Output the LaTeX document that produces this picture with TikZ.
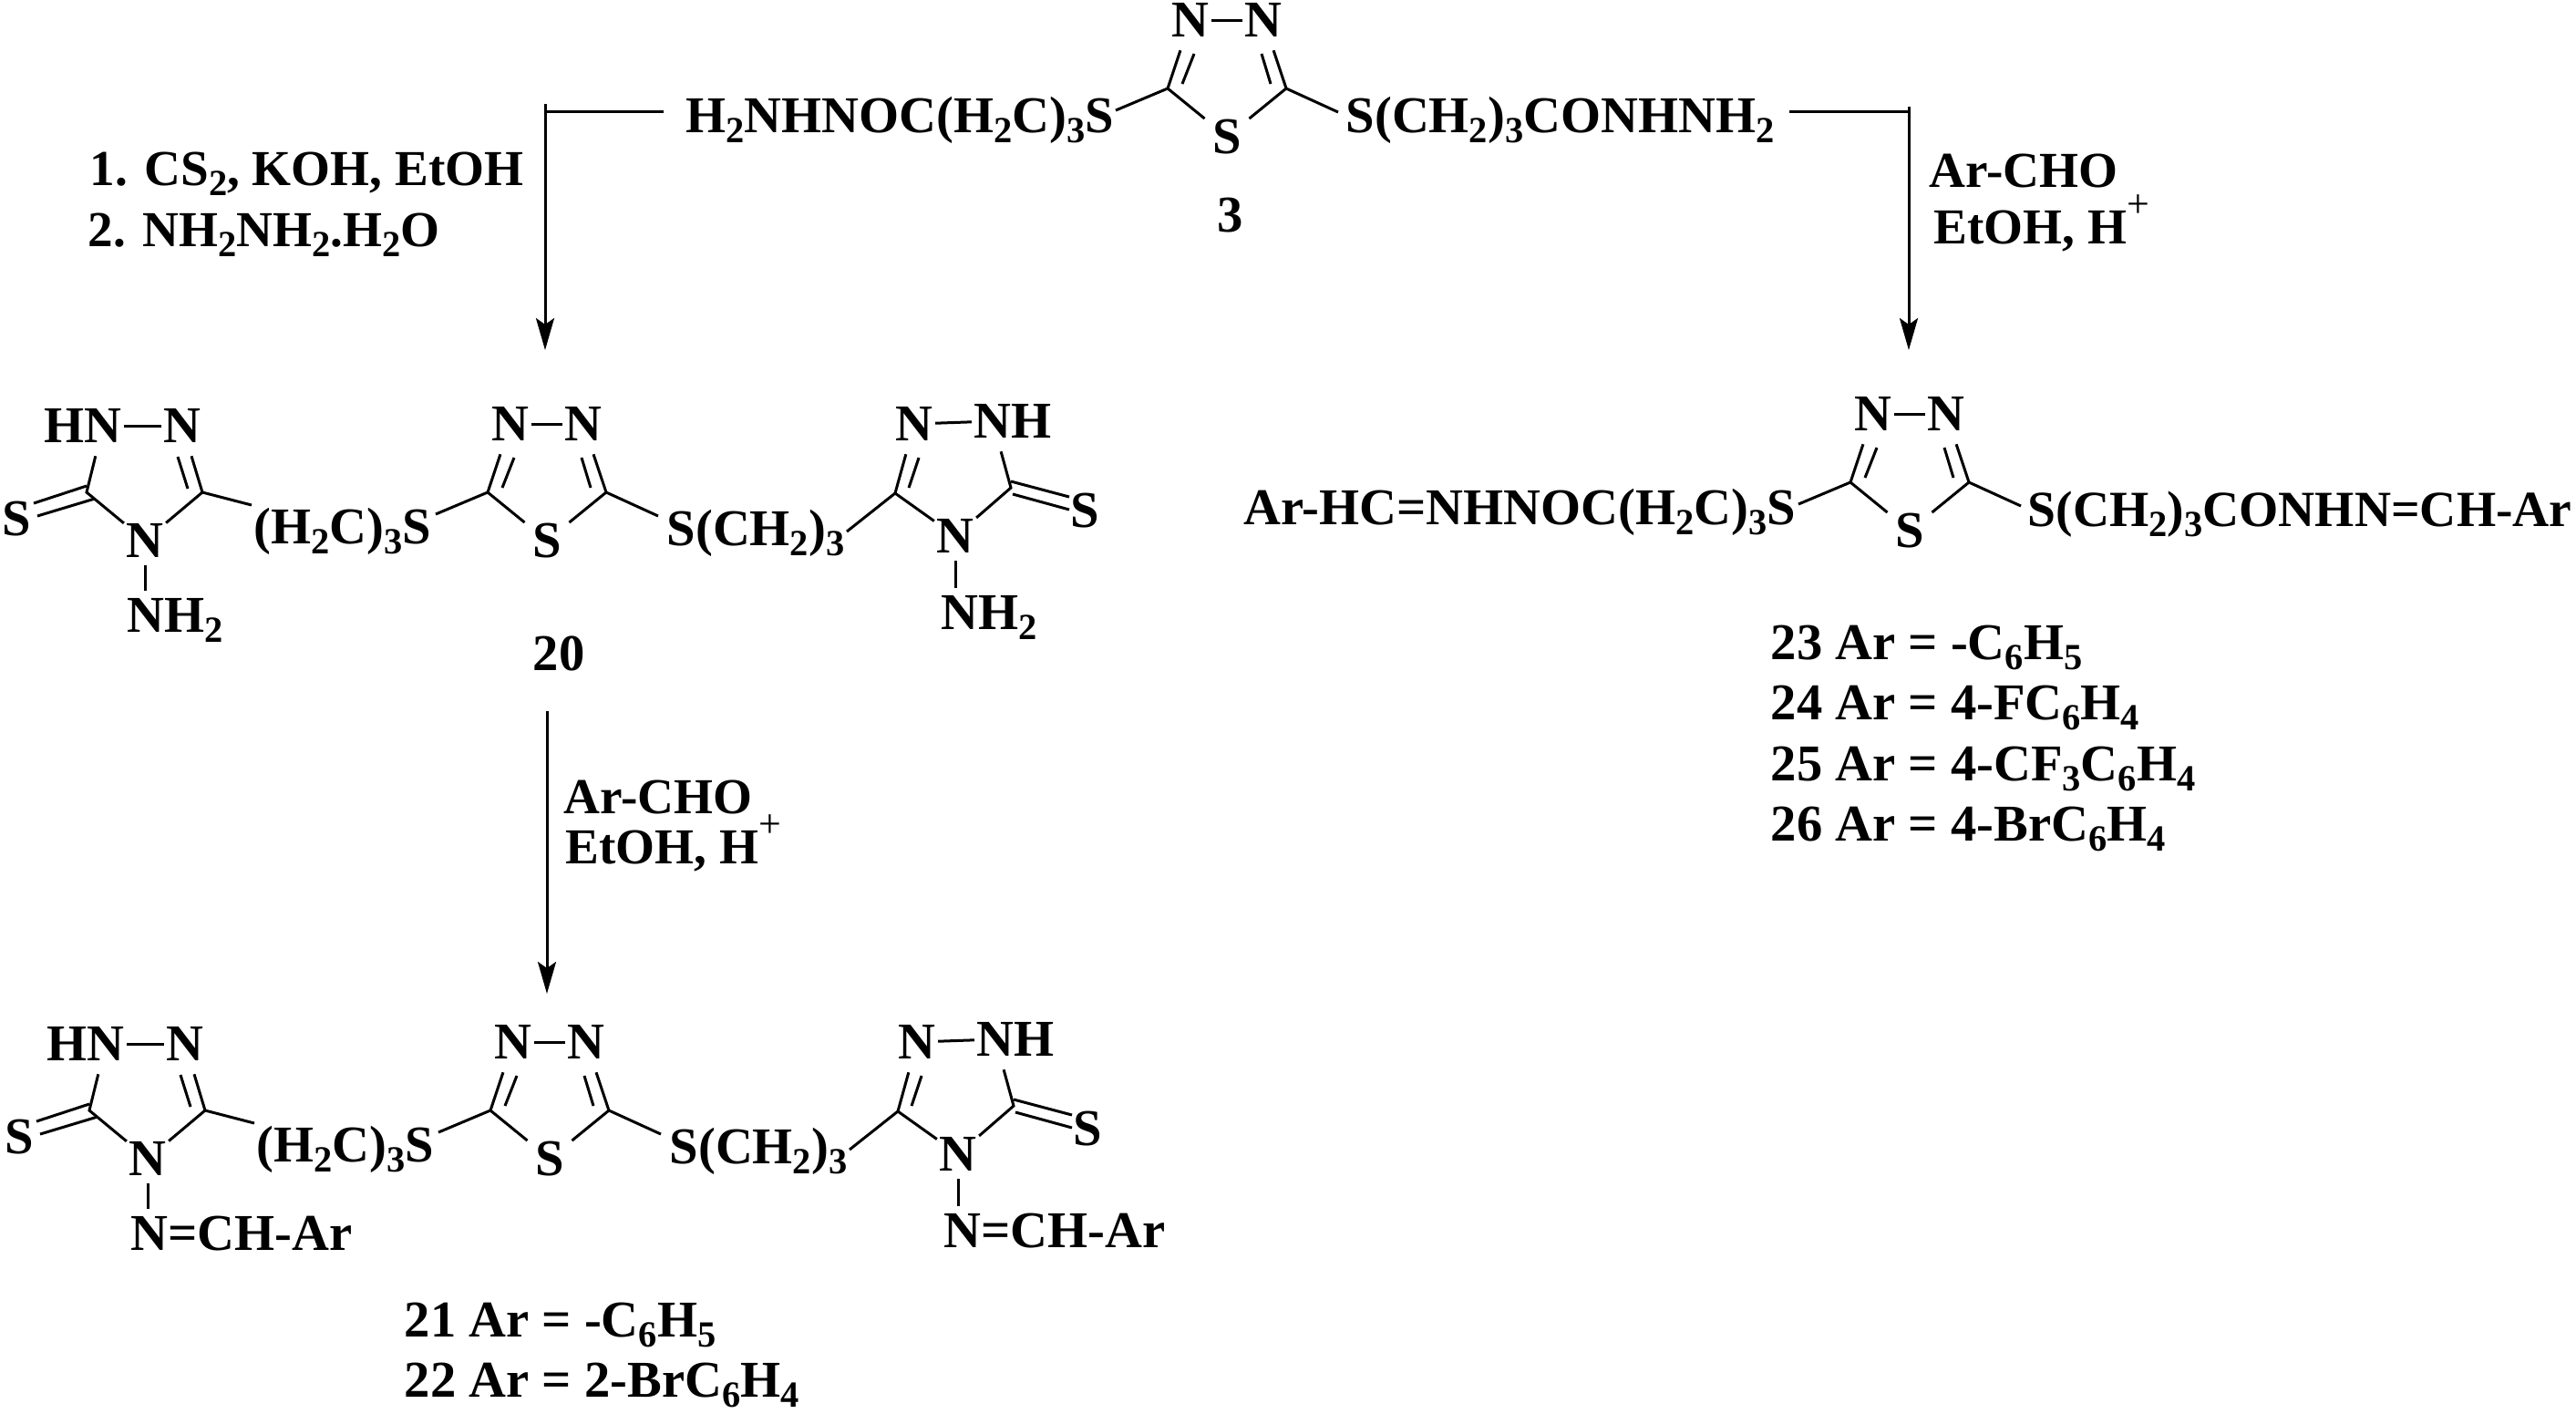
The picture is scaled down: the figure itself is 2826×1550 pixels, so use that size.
\documentclass[tikz,border=0pt]{standalone}
\usepackage{fontspec}
\setmainfont{Liberation Serif}
\usetikzlibrary{arrows.meta}
\newcommand{\sbs}[1]{\raisebox{-.2em}{\fontsize{11.5}{12}\selectfont #1}}
\newcommand{\sps}[1]{\raisebox{.52em}{\mdseries\fontsize{12.5}{13}\selectfont #1}}
\tikzset{
  chem/.style={font=\bfseries\fontsize{16.1}{20}\selectfont},
  bond/.style={line width=.03cm},
  reaction/.style={line width=.03cm,-{Stealth[length=.35cm,width=.2cm,inset=.07cm]}},
  atom/.style={chem,inner xsep=.02cm,inner ysep=.14cm},
  ringS/.style={atom,inner xsep=.08cm},
  nsub/.style={atom,inner ysep=.08cm},
  txt/.style={chem,anchor=base west,inner xsep=0,inner ysep=.07cm},
  reagent/.style={txt,font=\bfseries\fontsize{15.7}{20}\selectfont},
}
\begin{document}
\begin{tikzpicture}
[x=.01cm,y=-.01cm]
\useasboundingbox (0,0) rectangle (2826,1550);

% thiadiazole rings
\foreach \n/\x/\y in {r3/1346/97,rA/600/540,rB/603/1218,rC/2095/529}{
\begin{scope}[shift={(\x,\y)}]
\coordinate (\n cl) at (-65,0);
\coordinate (\n cr) at (65,0);
\node[atom] (\n nl) at (-40,-75) {N};
\node[atom] (\n nr) at (40,-75) {N};
\node[ringS] (\n s) at (0,53) {S};
\coordinate (\n il) at (-36,-38);
\coordinate (\n jl) at (-49,-5);
\coordinate (\n ir) at (38,-38);
\coordinate (\n jr) at (48,-5);
\coordinate (\n el) at (-122,24);
\coordinate (\n er) at (122,26);
\draw[bond] (\n nl) -- (\n nr);
\draw[bond] (\n el) -- (\n cl) -- (\n nl);
\draw[bond] (\n er) -- (\n cr) -- (\n nr);
\draw[bond] (\n cl) -- (\n s);
\draw[bond] (\n cr) -- (\n s);
\draw[bond] (\n il) -- (\n jl);
\draw[bond] (\n ir) -- (\n jr);
\end{scope}
}

% the two triazole molecules
\foreach \n/\dx/\dy in {A/0/0,B/3/678}{
\begin{scope}[shift={(\dx,\dy)}]
\node[txt] (ch\n l) at (278,596) {(H\sbs{2}C)\sbs{3}S};
\node[txt] (ch\n r) at (731,598) {S(CH\sbs{2})\sbs{3}};
% left ring
\coordinate (c5\n) at (95,540);
\coordinate (c3\n) at (222,540);
\coordinate (e\n) at (276,554);
\node[atom] (na\n) at (113,467) {\llap{H}N};
\node[atom] (nb\n) at (200,467) {N};
\node[nsub] (nc\n) at (159,593) {N};
\node[atom] (sa\n) at (18,569) {S};
\coordinate (ia\n) at (195,501);
\coordinate (ib\n) at (206,536);
\coordinate (ic\n) at (95,533);
\coordinate (id\n) at (37,552);
\coordinate (ie\n) at (104,547);
\coordinate (if\n) at (41,566);
\draw[bond] (na\n) -- (nb\n);
\draw[bond] (na\n) -- (c5\n) -- (nc\n) -- (c3\n) -- (nb\n);
\draw[bond] (ia\n) -- (ib\n);
\draw[bond] (ic\n) -- (id\n);
\draw[bond] (ie\n) -- (if\n);
\draw[bond] (c3\n) -- (e\n);
% right ring
\coordinate (cc\n) at (982,541);
\coordinate (cd\n) at (1109,535);
\coordinate (g\n) at (929,583);
\node[atom] (nd\n) at (1003,465) {N};
\node[atom] (ne\n) at (1089,462) {N\rlap{H}};
\node[nsub] (nf\n) at (1048,588) {N};
\node[atom] (sb\n) at (1190,560) {S};
\coordinate (ja\n) at (1008,502);
\coordinate (jb\n) at (997,535);
\coordinate (jc\n) at (1109,528);
\coordinate (jd\n) at (1173,545);
\coordinate (je\n) at (1111,542);
\coordinate (jf\n) at (1173,559);
\draw[bond] (nd\n) -- (ne\n);
\draw[bond] (nd\n) -- (cc\n) -- (nf\n) -- (cd\n) -- (ne\n);
\draw[bond] (ja\n) -- (jb\n);
\draw[bond] (jc\n) -- (jd\n);
\draw[bond] (je\n) -- (jf\n);
\draw[bond] (cc\n) -- (g\n);
\end{scope}
}

% substituents on the triazoles
\node[txt] (nhl) at (139,693) {NH\sbs{2}};
\node[txt] (nhr) at (1032,690) {NH\sbs{2}};
\node[txt] (arl) at (143,1371) {N=CH-Ar};
\node[txt] (arr) at (1035,1368) {N=CH-Ar};
\draw[bond] (ncA) -- (ncA |- nhl.north);
\draw[bond] (nfA) -- (nfA |- nhr.north);
\draw[bond] (ncB) -- (ncB |- arl.north);
\draw[bond] (nfB) -- (nfB |- arr.north);

% compound 3
\node[txt] (c3l) at (752,145) {H\sbs{2}NHNOC(H\sbs{2}C)\sbs{3}S};
\node[txt] (c3r) at (1476,145) {S(CH\sbs{2})\sbs{3}CONHNH\sbs{2}};
\node[chem] (n3) at (1350,236) {3};
% compounds 23-26
\node[txt] (c23l) at (1364,575) {Ar-HC=NHNOC(H\sbs{2}C)\sbs{3}S};
\node[txt,font=\bfseries\fontsize{15.8}{20}\selectfont] (c23r) at (2224,577) {S(CH\sbs{2})\sbs{3}CONHN=CH-Ar};
\node[chem] (n20) at (613,717) {20};

\node[txt] (l21) at (443,1466) {21 Ar = -C\sbs{6}H\sbs{5}};
\node[txt] (l22) at (443,1532) {22 Ar = 2-BrC\sbs{6}H\sbs{4}};
\node[txt] (l23) at (1942,723) {23 Ar = -C\sbs{6}H\sbs{5}};
\node[txt] (l24) at (1942,789) {24 Ar = 4-FC\sbs{6}H\sbs{4}};
\node[txt] (l25) at (1942,856) {25 Ar = 4-CF\sbs{3}C\sbs{6}H\sbs{4}};
\node[txt] (l26) at (1942,922) {26 Ar = 4-BrC\sbs{6}H\sbs{4}};

% reagents
\node[reagent] (ra) at (98,203) {1. CS\sbs{2}, KOH, EtOH};
\node[reagent] (rb) at (96,270) {2. NH\sbs{2}NH\sbs{2}.H\sbs{2}O};
\node[reagent] (rc) at (2116,205) {Ar-CHO};
\node[reagent] (rd) at (2121,267) {EtOH, H\sps{+}};
\node[reagent] (re) at (618,892) {Ar-CHO};
\node[reagent] (rf) at (620,947) {EtOH, H\sps{+}};

% arrows
\coordinate (tl) at (598,114);
\coordinate (bl) at (598,384);
\coordinate (hl) at (728,122);
\coordinate (tr) at (2094,117);
\coordinate (br) at (2094,384);
\coordinate (hr) at (1963,122);
\coordinate (tm) at (600,780);
\coordinate (bm) at (600,1090);
\draw[reaction] (tl) -- (bl);
\draw[bond] (hl) -- (hl -| tl);
\draw[reaction] (tr) -- (br);
\draw[bond] (hr) -- (hr -| tr);
\draw[reaction] (tm) -- (bm);
\end{tikzpicture}
\end{document}
